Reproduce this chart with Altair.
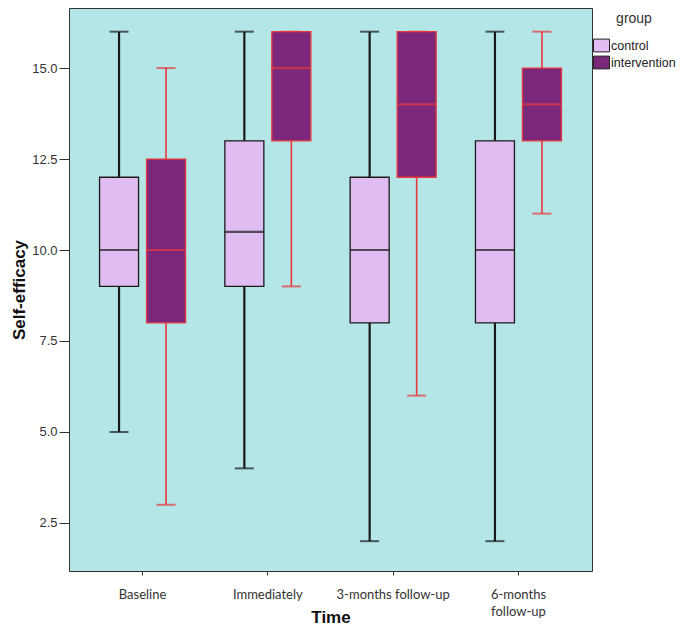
import altair as alt
import pandas as pd

times = ["Baseline", "Immediately", "3-months follow-up", "6-months follow-up"]
groups = ["control", "intervention"]

ctrl_min = [5, 4, 2, 2]
ctrl_q1 = [9, 9, 8, 8]
ctrl_med = [10, 10.5, 10, 10]
ctrl_q3 = [12, 13, 12, 13]
ctrl_max = [16, 16, 16, 16]

int_min = [3, 9, 6, 11]
int_q1 = [8, 13, 12, 13]
int_med = [10, 15, 14, 14]
int_q3 = [12.5, 16, 16, 15]
int_max = [15, 16, 16, 16]

edge_colors = {"control": "#1a1a1a", "intervention": "#e8383d"}
whisker_widths = {"control": 2.2, "intervention": 1.6}
fill_colors = ["#dfbcf1", "#7b287a"]

rows = []
for g, mins, q1s, meds, q3s, maxs in [
    ("control", ctrl_min, ctrl_q1, ctrl_med, ctrl_q3, ctrl_max),
    ("intervention", int_min, int_q1, int_med, int_q3, int_max),
]:
    for i, t in enumerate(times):
        rows.append({"time": t, "group": g, "lo": mins[i], "q1": q1s[i], "med": meds[i],
                     "q3": q3s[i], "hi": maxs[i], "edge": edge_colors[g], "sw": whisker_widths[g]})
df = pd.DataFrame(rows)

x = alt.X("time:N", sort=times, title="Time",
          scale=alt.Scale(paddingInner=0, paddingOuter=0.087),
          axis=alt.Axis(labelExpr="datum.value == '6-months follow-up' ? ['6-months', 'follow-up'] : datum.value",
                        labelFont="Lato", labelFontSize=13, labelColor="#333", labelLineHeight=17,
                        labelPadding=13, tickSize=4, tickColor="#333", domain=False, labelAngle=0,
                        titleFont="Liberation Sans", titleFontSize=17, titleFontWeight="bold",
                        titleColor="#111", titleY=51, titleBaseline="alphabetic"))
xo = alt.XOffset("group:N", sort=groups, scale=alt.Scale(paddingInner=0.17, paddingOuter=0.418))
yscale = alt.Scale(domain=[1.18, 16.65], nice=False, zero=False)

base = alt.Chart(df)

whisk = base.mark_rule().encode(
    x=x, xOffset=xo,
    y=alt.Y("lo:Q", scale=yscale, title="Self-efficacy",
            axis=alt.Axis(values=[2.5, 5.0, 7.5, 10.0, 12.5, 15.0], format=".1f", grid=False,
                          domain=False, tickSize=10, tickColor="#333", labelPadding=2,
                          labelFont="Liberation Sans", labelFontSize=13, labelColor="#333",
                          titleFont="Liberation Sans", titleFontSize=17, titleFontWeight="bold",
                          titleColor="#111", titlePadding=3)),
    y2="hi:Q",
    color=alt.Color("edge:N", scale=None),
    strokeWidth=alt.StrokeWidth("sw:Q", scale=None),
)

cap_lo = base.mark_tick(size=19, thickness=2).encode(
    x=x, xOffset=xo, y=alt.Y("lo:Q", scale=yscale), color=alt.Color("edge:N", scale=None))
cap_hi = base.mark_tick(size=19, thickness=2).encode(
    x=x, xOffset=xo, y=alt.Y("hi:Q", scale=yscale), color=alt.Color("edge:N", scale=None))

box = base.mark_bar(strokeWidth=1.3).encode(
    x=x, xOffset=xo,
    y=alt.Y("q1:Q", scale=yscale), y2="q3:Q",
    fill=alt.Fill("group:N", sort=groups, title="group",
                  scale=alt.Scale(domain=groups, range=fill_colors),
                  legend=alt.Legend(orient="none", legendX=524, legendY=4)),
    stroke=alt.Stroke("edge:N", scale=None),
)

med = base.mark_tick(size=39, thickness=2.2).encode(
    x=x, xOffset=xo, y=alt.Y("med:Q", scale=yscale), color=alt.Color("edge:N", scale=None))

chart = alt.layer(whisk, cap_lo, cap_hi, box, med).properties(
    width=523, height=563,
    autosize=alt.AutoSizeParams(type="none"),
    padding={"left": 61, "top": 0, "right": 85, "bottom": 58},
    background="white",
).configure_view(
    fill="#b4e6e7", stroke="#333", strokeWidth=1
).configure_legend(
    padding=0,
    titleFont="Liberation Sans", titleFontSize=14, titleFontWeight="normal", titleColor="#333",
    titleAnchor="middle", titlePadding=11,
    labelFont="Liberation Sans", labelFontSize=12.5, labelColor="#222", labelOffset=1,
    symbolType="M-1,-0.8H1V0.8H-1Z", symbolSize=256, symbolStrokeColor="#222",
    symbolStrokeWidth=1, symbolOpacity=1, rowPadding=0,
)

chart.save("out.html", embed_options={"renderer": "svg", "actions": False})
